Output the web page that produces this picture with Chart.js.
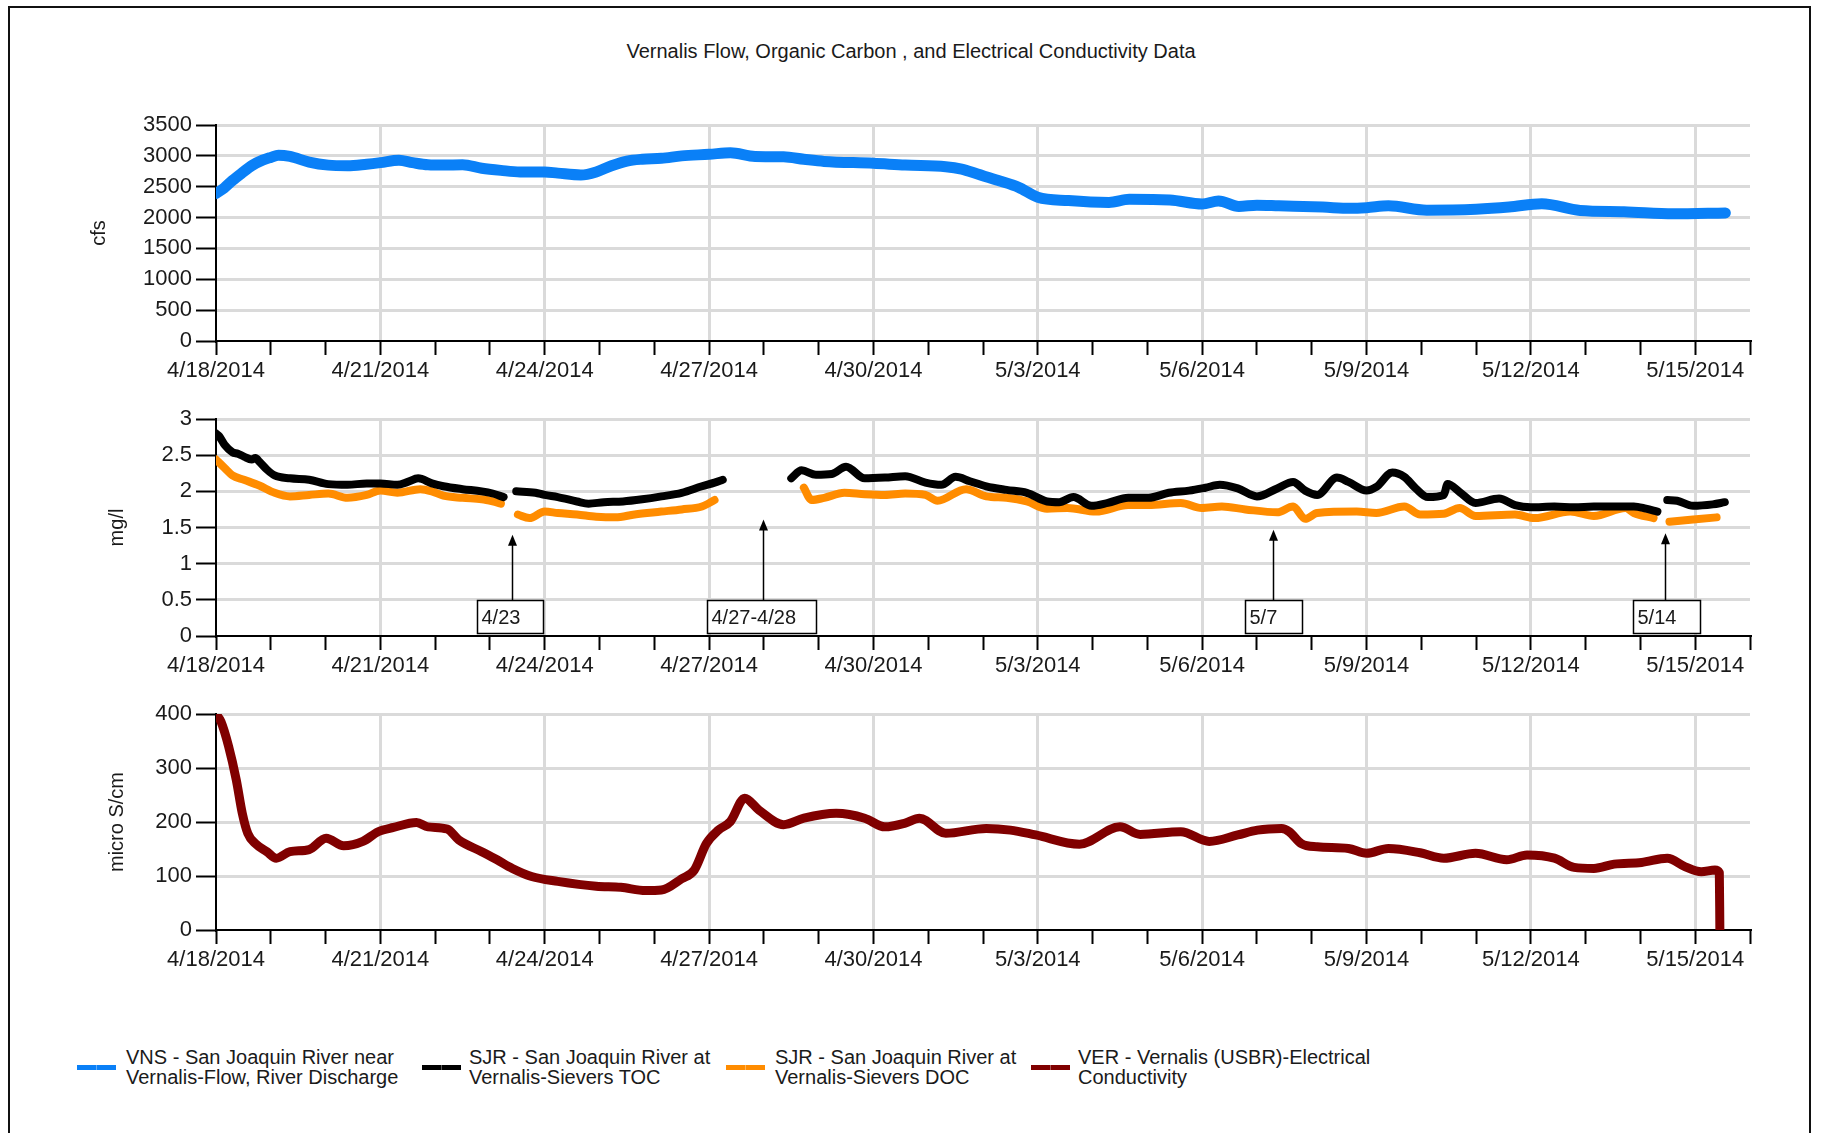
<!DOCTYPE html>
<html>
<head>
<meta charset="utf-8">
<script src="https://cdn.jsdelivr.net/npm/chart.js@4.4.1/dist/chart.umd.min.js"></script>
<style>
html,body{margin:0;padding:0;background:#fff;}
#page{position:relative;width:1822px;height:1133px;overflow:hidden;background:#fff;font-family:"Liberation Sans",Arial,sans-serif;color:#1a1a1a;}
#frame{position:absolute;left:8px;top:6px;width:1803px;height:1160px;border:2px solid #111;border-bottom:none;box-sizing:border-box;}
#title{position:absolute;left:0;width:1822px;top:39px;text-align:center;font-size:20px;line-height:24px;white-space:nowrap;}
canvas{position:absolute;left:0;}
.lgt{position:absolute;top:1047px;font-size:20px;line-height:20px;white-space:nowrap;}
.mk{position:absolute;top:1065px;height:5px;width:39px;}
.mk i{position:absolute;left:19px;top:-1px;width:1px;height:7px;background:rgba(255,255,255,0.35);}
</style>
</head>
<body>
<div id="page">
  <div id="frame"></div>
  <div id="title">Vernalis Flow, Organic Carbon , and Electrical Conductivity Data</div>
  <canvas id="c1" width="1822" height="300" style="top:95px"></canvas>
  <canvas id="c2" width="1822" height="300" style="top:389px"></canvas>
  <canvas id="c3" width="1822" height="300" style="top:684px"></canvas>
  <div id="legend"></div>
</div>
<script>
// ---------- data (x = days since 4/18/2014 00:00) ----------
const xTickLabels = ['4/18/2014','4/21/2014','4/24/2014','4/27/2014','4/30/2014','5/3/2014','5/6/2014','5/9/2014','5/12/2014','5/15/2014'];

const flowDay = [0,0.15,0.3,0.5,0.65,0.85,1.0,1.14,1.35,1.7,2.05,2.4,2.75,3.0,3.34,3.59,3.87,4.15,4.5,4.85,5.2,5.55,6.0,6.24,6.66,6.94,7.22,7.5,7.78,8.13,8.5,9.0,9.39,9.84,10.36,10.73,11.1,12.0,12.58,13.32,13.61,13.9,14.28,14.65,15.0,15.56,16.3,16.67,17.41,18.0,18.3,18.67,19.0,19.4,20.2,20.7,21.0,21.4,22.1,23.0,23.6,24.2,24.9,25.7,26.6,27.55];
const flowCfs = [2390,2480,2600,2740,2840,2930,2975,3010,2990,2900,2850,2840,2865,2890,2930,2890,2855,2850,2855,2800,2765,2740,2740,2720,2690,2740,2840,2915,2945,2960,3000,3025,3050,2990,2985,2945,2910,2880,2850,2825,2785,2705,2600,2490,2330,2275,2245,2295,2285,2220,2270,2180,2200,2190,2170,2150,2160,2190,2120,2135,2170,2225,2115,2095,2060,2075];

const tocDay = [0,0.06,0.16,0.3,0.4,0.51,0.65,0.72,0.79,0.93,1.07,1.35,1.7,2.05,2.4,2.75,3.0,3.31,3.5,3.69,3.94,4.15,4.5,4.85,5.05,5.25,5.37,5.48,5.83,6.0,6.24,6.59,6.8,7.08,7.43,7.78,8.13,8.5,8.87,9.1,9.25,9.9,10.5,10.69,10.95,11.24,11.5,11.84,12.21,12.58,12.95,13.24,13.5,13.76,14.06,14.43,14.8,15.17,15.39,15.65,15.98,16.28,16.65,17.02,17.39,17.76,18.06,18.32,18.65,19.0,19.37,19.66,19.88,20.1,20.46,20.67,21.0,21.18,21.47,21.69,21.9,22.12,22.41,22.48,22.7,22.99,23.42,23.71,24.0,24.43,24.79,25.15,25.52,25.88,26.1,26.31,26.4,26.49,26.67,26.96,27.32,27.54];
const tocMgl = [2.80,2.76,2.64,2.54,2.52,2.48,2.44,2.46,2.41,2.30,2.22,2.18,2.16,2.10,2.09,2.11,2.11,2.09,2.13,2.18,2.11,2.07,2.03,2.00,1.97,1.92,null,2.00,1.98,1.95,1.92,1.86,1.83,1.85,1.86,1.89,1.93,1.98,2.07,2.12,2.16,null,2.18,2.29,2.23,2.24,2.34,2.18,2.19,2.21,2.12,2.09,2.20,2.14,2.07,2.02,1.98,1.86,1.85,1.92,1.80,1.84,1.91,1.91,1.98,2.01,2.05,2.09,2.04,1.93,2.04,2.13,2.01,1.95,2.19,2.13,2.01,2.06,2.26,2.20,2.04,1.92,1.95,2.10,1.99,1.84,1.90,1.81,1.78,1.79,1.78,1.79,1.79,1.79,1.76,1.72,null,1.88,1.87,1.80,1.82,1.85];

const docDay = [0,0.16,0.3,0.51,0.79,1.07,1.35,1.7,2.05,2.4,2.75,3.0,3.31,3.73,3.94,4.15,4.5,4.85,5.05,5.2,5.35,5.51,5.72,6.0,6.24,6.59,6.94,7.29,7.64,8.13,8.5,8.87,9.1,9.9,10.73,10.87,11.1,11.47,11.84,12.21,12.58,12.95,13.17,13.69,14.06,14.43,14.8,15.17,15.54,16.06,16.65,17.02,17.61,17.99,18.36,18.79,19.37,19.66,19.88,20.1,20.82,21.18,21.69,21.98,22.41,22.7,22.99,23.71,24.07,24.72,25.15,25.73,25.88,26.24,26.4,26.53,26.96,27.39];
const docMgl = [2.44,2.32,2.22,2.16,2.08,1.98,1.93,1.95,1.97,1.91,1.95,2.01,1.98,2.03,2.00,1.94,1.91,1.89,1.86,1.83,null,1.68,1.63,1.72,1.70,1.68,1.65,1.64,1.68,1.72,1.75,1.79,1.88,null,2.05,1.88,1.91,1.98,1.96,1.95,1.97,1.95,1.87,2.03,1.93,1.91,1.86,1.76,1.77,1.72,1.81,1.81,1.84,1.77,1.79,1.75,1.71,1.79,1.62,1.70,1.72,1.70,1.79,1.68,1.69,1.77,1.66,1.68,1.63,1.72,1.66,1.77,1.70,1.63,null,1.58,1.61,1.64];

const ecDay = [0,0.09,0.23,0.37,0.48,0.58,0.72,0.93,1.1,1.35,1.7,2.01,2.33,2.68,2.96,3.24,3.66,3.87,4.22,4.43,4.85,5.13,5.41,5.76,6.24,6.94,7.39,7.84,8.13,8.5,8.73,8.95,9.17,9.39,9.65,9.91,10.36,10.73,11.32,11.84,12.21,12.58,12.84,13.32,14.06,14.5,14.96,15.76,16.5,16.87,17.61,18.13,18.65,19.01,19.45,19.59,19.81,20.1,20.67,21.0,21.4,21.98,22.41,22.99,23.56,23.93,24.43,24.79,25.15,25.52,26.02,26.49,26.82,27.11,27.36,27.44,27.45];
const ecUScm = [400,386,340,278,216,179,160,145,133,145,149,170,156,164,182,190,199,191,187,167,145,130,114,99,90,81,79,73,74,95,111,160,185,201,244,222,195,207,216,207,191,198,207,179,188,185,176,159,191,177,182,164,176,185,188,182,160,154,151,142,151,143,133,142,130,139,133,116,114,122,125,133,117,108,111,106,0];

const annLabels = ['4/23','4/27-4/28','5/7','5/14'];
const annArrowDay = [5.40, 9.98, 19.29, 26.45];
const annTipVal = [1.40, 1.61, 1.47, 1.42];
const annBoxStart = [4.76, 8.96, 18.79, 25.86];
const annBoxEnd = [5.97, 10.95, 19.82, 27.08];
const annBoxRange = [0.04, 0.50];

const seriesNames = [
  ['VNS - San Joaquin River near','Vernalis-Flow, River Discharge'],
  ['SJR - San Joaquin River at','Vernalis-Sievers TOC'],
  ['SJR - San Joaquin River at','Vernalis-Sievers DOC'],
  ['VER - Vernalis (USBR)-Electrical','Conductivity']
];
const seriesColors = ['#0a80f7','#000000','#ff8c00','#800000'];

// ---------- styling ----------
const FONT = '"Liberation Sans", Arial, sans-serif';
const TXT = '#1a1a1a';
const GRID = '#dadada';
const PLOT_LEFT = 216, PLOT_RIGHT = 1750, CANVAS_H = 300, PAD_TOP = 30;

function pts(xs, ys) { return xs.map((d, i) => ({x: d, y: ys[i]})); }

function lineDs(label, xs, ys, color, w) {
  return {label, data: pts(xs, ys), borderColor: color, backgroundColor: color,
    borderWidth: w, pointRadius: 0, cubicInterpolationMode: 'monotone', spanGaps: false,
    borderJoinStyle: 'round', borderCapStyle: 'round', fill: false};
}

function makePanel(id, datasets, yMin, yMax, yStep, yTitle, titlePad, plotH, plugins) {
  const xH = CANVAS_H - PAD_TOP - plotH;
  return new Chart(document.getElementById(id), {
    type: 'line',
    data: {datasets},
    plugins: plugins || [],
    options: {
      responsive: false, animation: false, events: [],
      layout: {padding: {left: 0, right: 1822 - PLOT_RIGHT, top: PAD_TOP, bottom: 0}},
      plugins: {legend: {display: false}, tooltip: {enabled: false}, title: {display: false}},
      scales: {
        x: {
          type: 'linear', min: 0, max: 28,
          afterFit: (s) => { s.height = xH; },
          border: {display: true, color: '#000', width: 2},
          grid: {
            color: (c) => (c.tick && c.tick.value > 0 && c.tick.value < 28 && c.tick.value % 3 === 0) ? GRID : 'rgba(0,0,0,0)',
            lineWidth: 3, tickColor: '#000', tickWidth: 2, tickLength: 14, drawTicks: true
          },
          ticks: {
            stepSize: 1, autoSkip: false, maxRotation: 0, minRotation: 0, padding: 3,
            color: TXT, font: {family: FONT, size: 22},
            callback: (v) => (v % 3 === 0 && xTickLabels[v / 3]) ? xTickLabels[v / 3] : ''
          }
        },
        y: {
          min: yMin, max: yMax,
          afterFit: (s) => { s.width = PLOT_LEFT; },
          border: {display: true, color: '#000', width: 2},
          grid: {
            color: (c) => (c.tick && c.tick.value > yMin) ? GRID : 'rgba(0,0,0,0)',
            lineWidth: 3, tickColor: '#000', tickWidth: 2, tickLength: 20
          },
          ticks: {stepSize: yStep, padding: 4, color: TXT, font: {family: FONT, size: 22},
            callback: (v) => String(v)},
          title: {display: true, text: yTitle, color: TXT, font: {family: FONT, size: 20},
            padding: {top: titlePad, bottom: 0}}
        }
      }
    }
  });
}

const calloutPlugin = {
  id: 'callouts',
  afterDatasetsDraw(chart) {
    const {ctx, scales: {x, y}} = chart;
    ctx.save();
    annLabels.forEach((txt, i) => {
      const ax = Math.round(x.getPixelForValue(annArrowDay[i])) + 0.5;
      const tip = y.getPixelForValue(annTipVal[i]);
      const bl = Math.round(x.getPixelForValue(annBoxStart[i])) + 0.5;
      const br = Math.round(x.getPixelForValue(annBoxEnd[i])) + 0.5;
      const bt = Math.round(y.getPixelForValue(annBoxRange[1])) + 0.5;
      const bb = Math.round(y.getPixelForValue(annBoxRange[0])) + 0.5;
      ctx.fillStyle = '#fff';
      ctx.fillRect(bl, bt, br - bl, bb - bt);
      ctx.strokeStyle = '#000';
      ctx.lineWidth = 1.5;
      ctx.strokeRect(bl, bt, br - bl, bb - bt);
      ctx.beginPath(); ctx.moveTo(ax, bt); ctx.lineTo(ax, tip + 8); ctx.stroke();
      ctx.fillStyle = '#000';
      ctx.beginPath(); ctx.moveTo(ax, tip); ctx.lineTo(ax - 4.5, tip + 11); ctx.lineTo(ax + 4.5, tip + 11); ctx.closePath(); ctx.fill();
      ctx.font = '20px ' + FONT;
      ctx.textBaseline = 'middle'; ctx.textAlign = 'left'; ctx.fillStyle = TXT;
      ctx.fillText(txt, bl + 4, (bt + bb) / 2 + 1);
    });
    ctx.restore();
  }
};

makePanel('c1', [lineDs(seriesNames[0].join(' '), flowDay, flowCfs, seriesColors[0], 11)], 0, 3500, 500, 'cfs', 87, 216);
makePanel('c2', [
  lineDs(seriesNames[1].join(' '), tocDay, tocMgl, seriesColors[1], 8),
  lineDs(seriesNames[2].join(' '), docDay, docMgl, seriesColors[2], 8)
], 0, 3, 0.5, 'mg/l', 105, 217, [calloutPlugin]);
makePanel('c3', [lineDs(seriesNames[3].join(' '), ecDay, ecUScm, seriesColors[3], 9)], 0, 400, 100, 'micro S/cm', 105, 216);

// ---------- legend ----------
const legendMarkerX = [77, 422, 726, 1031];
const legendTextX = [126, 469, 775, 1078];
const lg = document.getElementById('legend');
seriesNames.forEach((lines, i) => {
  const mk = document.createElement('div');
  mk.className = 'mk';
  mk.style.left = legendMarkerX[i] + 'px';
  mk.style.background = seriesColors[i];
  mk.appendChild(document.createElement('i'));
  lg.appendChild(mk);
  const t = document.createElement('div');
  t.className = 'lgt';
  t.style.left = legendTextX[i] + 'px';
  t.innerHTML = lines.join('<br>');
  lg.appendChild(t);
});
</script>
</body>
</html>
